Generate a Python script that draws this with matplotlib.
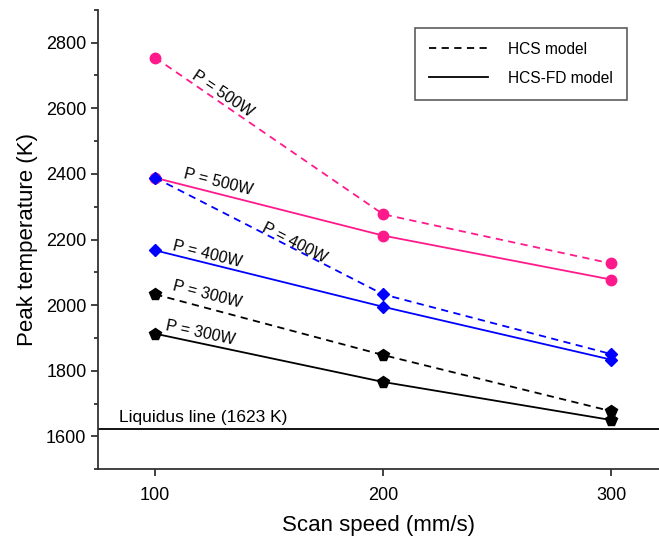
import matplotlib
matplotlib.use("Agg")
import matplotlib.pyplot as plt
from matplotlib.lines import Line2D
from matplotlib.ticker import MultipleLocator

plt.rcParams["font.family"] = ["Liberation Sans", "DejaVu Sans"]

# datos
speed = [100, 200, 300]
hcs_500 = [2754, 2277, 2127]
hcsfd_500 = [2388, 2212, 2078]
hcs_400 = [2388, 2033, 1851]
hcsfd_400 = [2167, 1995, 1834]
hcs_300 = [2033, 1848, 1677]
hcsfd_300 = [1913, 1766, 1650]
liquidus = 1623

pink = "#FF1A8C"
blue = "#0000FF"
black = "#000000"

fig = plt.figure(figsize=(6.59, 5.45), dpi=100)
ax = fig.add_axes([0.149, 0.139, 0.851, 0.843])

kw = dict(linewidth=1.3, markersize=7.5, clip_on=False)
ax.plot(speed, hcs_500, "--", color=pink, marker="o", dashes=(4, 3), **kw)
ax.plot(speed, hcsfd_500, "-", color=pink, marker="o", **kw)
ax.plot(speed, hcs_400, "--", color=blue, marker="D", dashes=(4, 3),
        linewidth=1.3, markersize=6.5)
ax.plot(speed, hcsfd_400, "-", color=blue, marker="D", linewidth=1.3, markersize=6.5)
ax.plot(speed, hcs_300, "--", color=black, marker="p", dashes=(4, 3),
        linewidth=1.3, markersize=8.5)
ax.plot(speed, hcsfd_300, "-", color=black, marker="p", linewidth=1.3, markersize=8.5)

ax.axhline(liquidus, color="black", linewidth=1.3)
ax.text(84, 1636, "Liquidus line (1623 K)", fontsize=12.5, ha="left", va="bottom")

# etiquetas de potencia
lab = dict(fontsize=11.5, ha="center", va="center", rotation_mode="anchor")
ax.text(129.5, 2645, "P = 500W", rotation=-34, **lab)
ax.text(127.5, 2374, "P = 500W", rotation=-14, **lab)
ax.text(161, 2190, "P = 400W", rotation=-27, **lab)
ax.text(123, 2155, "P = 400W", rotation=-14, **lab)
ax.text(123, 2032, "P = 300W", rotation=-14.5, **lab)
ax.text(120, 1915, "P = 300W", rotation=-12, **lab)

ax.set_xlim(75, 321)
ax.set_ylim(1500, 2900)
ax.set_xticks([100, 200, 300])
ax.yaxis.set_major_locator(MultipleLocator(200))
ax.yaxis.set_minor_locator(MultipleLocator(100))
ax.set_yticks([1600, 1800, 2000, 2200, 2400, 2600, 2800])

ax.spines["top"].set_visible(False)
ax.spines["right"].set_visible(False)
for s in ("left", "bottom"):
    ax.spines[s].set_linewidth(1.3)
    ax.spines[s].set_color("#333333")
ax.tick_params(which="major", direction="out", length=5, width=1.3,
               color="#333333", labelsize=13)
ax.tick_params(axis="x", which="major", pad=8)
ax.tick_params(which="minor", direction="out", length=3, width=1.3, color="#333333")

ax.set_xlabel("Scan speed (mm/s)", fontsize=16, labelpad=8)
ax.set_ylabel("Peak temperature (K)", fontsize=16, labelpad=6)

handles = [
    Line2D([], [], color="black", linestyle="--", dashes=(4, 3), linewidth=1.3),
    Line2D([], [], color="black", linestyle="-", linewidth=1.3),
]
leg = ax.legend(handles, ["HCS model", "HCS-FD model"], loc="upper right",
                bbox_to_anchor=(0.943, 0.961), fontsize=11.2, handlelength=3.8,
                frameon=True, fancybox=False, edgecolor="#333333",
                borderpad=0.9, labelspacing=0.9, handletextpad=1.3,
                borderaxespad=0)
leg.get_frame().set_linewidth(1.2)

fig.savefig("out.png", dpi=100)
